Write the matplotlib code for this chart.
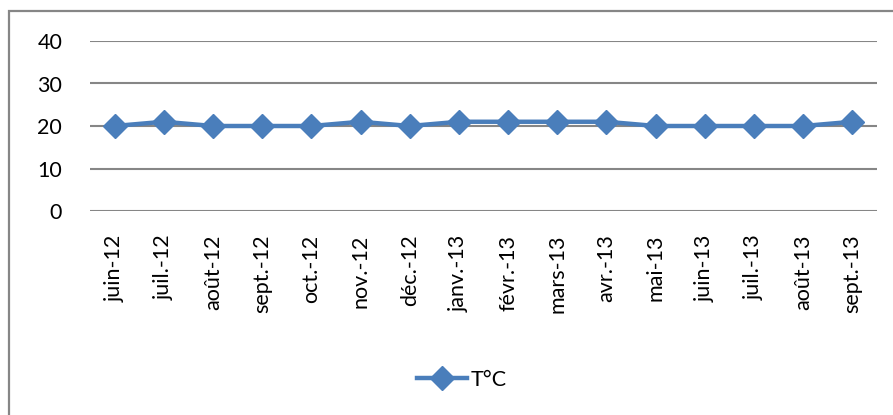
import matplotlib.pyplot as plt
from matplotlib.patches import Rectangle

# monthly mean temperature, June 2012 - September 2013
months = ["juin-12", "juil.-12", "août-12", "sept.-12", "oct.-12", "nov.-12",
          "déc.-12", "janv.-13", "févr.-13", "mars-13", "avr.-13", "mai-13",
          "juin-13", "juil.-13", "août-13", "sept.-13"]
temps = [20, 21, 20, 20, 20, 21, 20, 21, 21, 21, 21, 20, 20, 20, 20, 21]
yticks = [0, 10, 20, 30, 40]

plt.rcParams['font.family'] = ['Lato', 'DejaVu Sans']

fig = plt.figure(figsize=(8.93, 4.15), dpi=100)

# outer chart frame (right and bottom edges run off the image)
fig.patches.append(Rectangle((8.5 / 893, -0.01), 1.1, 1 - 11.5 / 415 + 0.01,
                             transform=fig.transFigure, fill=False,
                             edgecolor='#868686', linewidth=1.6))

ax = fig.add_axes([90 / 893, 1 - 211 / 415, 787 / 893, 170 / 415])
x = list(range(len(months)))
ax.plot(x, temps, color='#4A7EBB', linewidth=3.2, marker='D',
        markersize=12.5, label='T°C', zorder=3)

ax.set_xlim(-0.5, len(months) - 0.5)
ax.set_ylim(0, 40)
ax.set_yticks(yticks)
ax.set_xticks(x)
ax.set_xticklabels(months, rotation=90)
ax.tick_params(axis='both', length=0, labelsize=15.5, colors='black')
ax.tick_params(axis='y', pad=20)
ax.tick_params(axis='x', pad=17)
for s in ax.spines.values():
    s.set_visible(False)
ax.grid(axis='y', color='#868686', linewidth=1.5)
ax.set_axisbelow(True)

fig.legend(loc='center', bbox_to_anchor=(462 / 893, 1 - 380 / 415),
           frameon=False, fontsize=15.5, handlelength=2.3, handletextpad=0.2)

fig.savefig('out.png', dpi=100)
